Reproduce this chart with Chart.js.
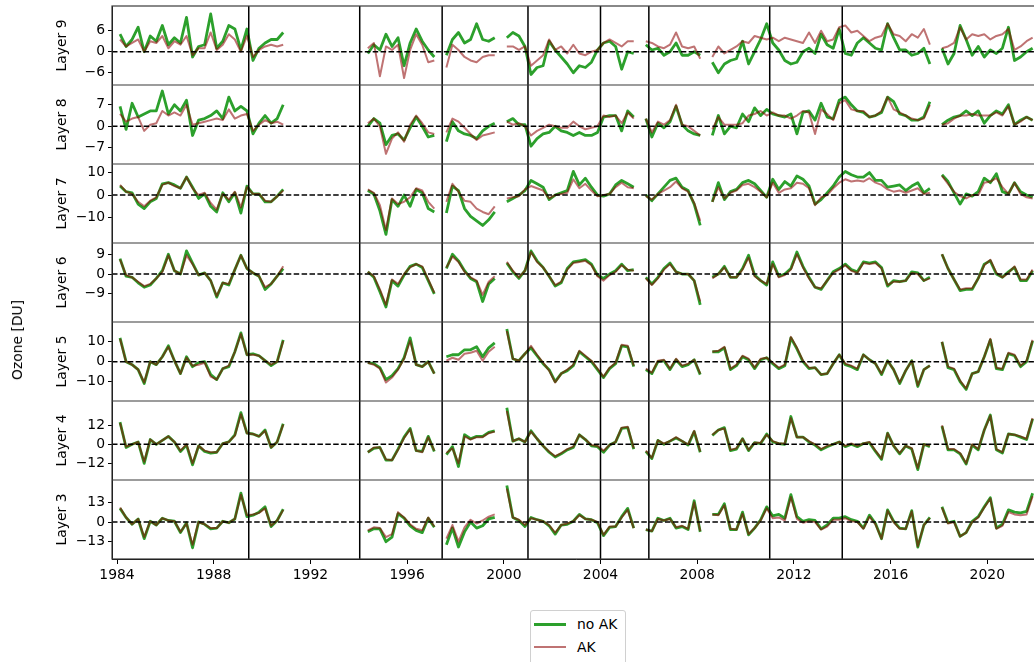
<!DOCTYPE html>
<html>
<head>
<meta charset="utf-8">
<script src="https://cdn.jsdelivr.net/npm/chart.js@4.4.1/dist/chart.umd.min.js"></script>
<style>
  html, body { margin: 0; padding: 0; background: #fff; overflow: hidden; }
  #page { position: relative; width: 1034px; height: 662px; overflow: hidden; }
  #chartBox { position: absolute; left: 0; top: 0; width: 1040px; height: 600px; }
  #ylab { position: absolute; left: 17px; top: 340px; transform: translate(-50%, -50%) rotate(-90deg);
          font: 13.9px "DejaVu Sans"; color: #000; white-space: nowrap; }
  #legend { position: absolute; left: 530px; top: 610px; width: 94px; height: 62px;
            border: 1px solid #d0d0d0; border-radius: 3px; background: #fff;
            font: 13.9px "DejaVu Sans"; color: #000; }
  #legend .row { position: absolute; left: 0; height: 18px; line-height: 18px; }
  #legend .sw { position: absolute; left: 3px; width: 32px; }
  #legend .tx { position: absolute; left: 46px; top: 0; white-space: nowrap; }
</style>
</head>
<body>
<div id="page">
  <div id="chartBox"><canvas id="ozoneChart"></canvas></div>
  <div id="ylab">Ozone [DU]</div>
  <div id="legend">
    <div class="row" style="top:4px"><span class="sw" style="top:7.5px;height:3px;background:#2ca02c"></span><span class="tx">no AK</span></div>
    <div class="row" style="top:27px"><span class="sw" style="top:8px;height:2px;background:rgba(139,0,0,0.55)"></span><span class="tx">AK</span></div>
  </div>
</div>
<script>
// quarterly samples, 1984.125 ... 2021.875 (152 points), null = no data
const years = [];
for (let i = 0; i < 152; i++) years.push(1984.125 + 0.25 * i);

const layers = [3, 4, 5, 6, 7, 8, 9];
const xTicks = [1984, 1988, 1992, 1996, 2000, 2004, 2008, 2012, 2016, 2020];
const breakYears = [1989.45, 1994.04, 1997.45, 2001.0, 2004.0, 2006.0, 2011.0, 2014.0];

// Layer 9
const noAK9 = [
  5.0, 1.5, 3.5, 7.0, 0.0, 4.5, 3.0, 7.5,
  2.0, 4.0, 2.5, 9.8, -1.5, 1.5, 2.0, 10.8,
  1.0, 3.0, 7.5, 6.5, 0.5, 6.5, -2.5, 1.0,
  2.5, 3.5, 3.5, 5.5, null, null, null, null,
  null, null, null, null, null, null, null, null,
  null, -0.5, 2.0, 0.5, 5.0, 1.5, 4.0, -4.0,
  2.5, 6.5, 3.0, 0.5, -1.5, null, -1.0, 3.5,
  5.5, 2.5, 3.5, 8.0, 3.5, 3.0, 4.0, null,
  4.0, 5.5, 4.5, 1.5, -6.5, -4.5, -4.0, 3.0,
  0.5, -1.5, -3.5, -6.0, -4.0, -4.5, -3.0, 0.5,
  2.5, 3.0, 1.5, -5.0, 0.0, -0.5, null, 2.0,
  0.5, 1.0, -1.0, 0.0, 2.5, -1.0, -1.0, 0.0,
  -1.0, null, -3.0, -6.0, -3.5, -2.5, -2.0, 3.0,
  -3.5, 0.0, 3.5, 8.0, 2.5, 0.5, -2.5, -3.5,
  -3.0, 0.0, 1.0, -0.5, 5.0, 2.0, 1.0, 6.5,
  -0.5, -1.0, 2.5, 4.0, 2.5, 1.0, 0.5, 8.0,
  4.0, 0.5, 0.5, -1.0, -0.5, 1.0, -3.5, null,
  1.0, -3.5, -0.5, 7.5, 3.5, -1.0, 1.5, -1.5,
  0.5, -0.5, 1.0, 7.0, -2.5, -1.5, 0.0, 1.0
];
const ak9 = [
  3.5, 1.5, 2.5, 3.5, 0.0, 3.0, 2.5, 4.5,
  1.0, 3.0, 2.0, 4.5, -1.0, 1.0, 1.0, 5.5,
  0.5, 2.0, 5.0, 3.5, 0.0, 4.5, -1.5, 0.5,
  1.5, 2.0, 1.5, 2.0, null, null, null, null,
  null, null, null, null, null, null, null, null,
  null, 1.0, 2.5, -7.0, 1.5, 0.5, 2.0, -7.5,
  0.5, 5.0, 2.0, -3.0, -2.5, null, -4.5, 2.0,
  0.5, -1.5, -2.5, -3.0, -1.5, -1.0, -1.0, null,
  1.5, 1.5, 0.5, 1.5, -4.0, -2.5, -1.0, 3.5,
  0.5, 1.5, -0.5, 2.0, -0.5, -1.0, 0.0, 0.5,
  2.5, 3.5, 2.5, 1.5, 3.0, 3.0, null, 3.0,
  2.5, 1.5, 1.0, 2.0, 5.5, 1.5, 1.0, 1.5,
  -2.0, null, -1.5, 1.5, -0.5, 0.5, 1.5, 3.0,
  2.5, 4.5, 4.0, 3.5, 4.0, 3.0, 4.0, 3.5,
  3.0, 2.5, 5.5, 2.5, 6.0, 3.0, 3.5, 7.0,
  7.5, 5.5, 6.0, 4.5, 3.0, 4.0, 4.5, 8.0,
  5.0, 4.5, 3.0, 5.0, 4.0, 6.5, 2.0, null,
  1.0, 1.5, 2.5, 7.0, 3.5, 5.0, 4.5, 5.0,
  3.5, 4.5, 5.0, 6.5, 0.5, 1.5, 3.0, 4.0
];

// Layer 8
const noAK8 = [
  6.5, -1.0, 7.5, 3.0, 4.0, 5.0, 5.0, 11.5,
  4.0, 7.0, 5.0, 8.5, -3.0, 2.0, 2.5, 3.5,
  5.0, 2.5, 9.5, 5.0, 6.5, 5.0, -2.5, 1.0,
  3.5, 1.0, 2.5, 7.0, null, null, null, null,
  null, null, null, null, null, null, null, null,
  null, 0.0, 2.5, 1.0, -6.0, -3.0, -2.5, -4.5,
  -0.5, 3.0, 0.0, -3.5, -3.0, null, -5.0, 1.5,
  -1.5, -2.5, -3.0, -4.0, -1.5, 0.0, 1.0, null,
  1.5, 2.5, 0.5, 0.5, -6.5, -4.0, -2.5, -2.0,
  0.0, -1.5, -2.0, -3.0, -2.0, -3.0, -3.0, -2.0,
  3.0, 3.5, 3.5, -1.5, 5.0, 3.0, null, 2.5,
  -3.5, 1.0, -0.5, 1.5, 6.5, 0.5, -1.5, -2.5,
  -3.0, null, -3.0, 3.5, -2.5, 0.0, -0.5, 4.0,
  1.5, 6.0, 3.5, 5.5, 4.0, 3.5, 3.0, 4.0,
  -2.5, 4.5, 5.0, 2.0, 7.5, 3.0, 2.5, 8.5,
  9.5, 7.0, 5.0, 4.5, 3.0, 3.5, 4.5, 9.5,
  8.0, 4.0, 3.5, 2.0, 2.0, 3.0, 8.0, null,
  0.5, 2.0, 3.0, 3.5, 5.0, 3.5, 5.0, 1.0,
  3.5, 5.0, 4.0, 7.0, 0.5, 2.0, 3.0, 2.0
];
const ak8 = [
  4.0, 1.5, 2.5, 3.0, -1.5, 0.5, 1.0, 5.0,
  3.5, 4.5, 3.5, 7.0, 0.5, 1.0, 1.5, 2.0,
  2.5, 2.0, 5.5, 2.5, 3.5, 4.0, -1.5, 0.5,
  2.0, 1.0, 1.5, 0.5, null, null, null, null,
  null, null, null, null, null, null, null, null,
  null, 1.0, 2.5, 0.0, -9.0, -4.0, -2.0, -5.0,
  0.5, 3.5, 1.0, -2.0, -2.5, null, -2.0, 2.5,
  1.5, -0.5, -2.5, -4.5, -3.0, -2.5, -2.0, null,
  1.5, 0.5, 1.0, 0.0, -3.0, -1.5, -0.5, 0.5,
  0.0, -0.5, -0.5, 1.5, 0.0, -1.0, -0.5, 0.0,
  3.5, 3.0, 3.5, 1.0, 4.5, 2.5, null, 2.5,
  -2.0, 1.5, 0.5, 2.0, 7.0, 0.5, 0.0, -1.5,
  -3.0, null, -1.0, 3.0, 0.5, 0.5, 0.5, 1.0,
  3.5, 4.0, 5.0, 3.5, 4.5, 3.5, 3.5, 2.5,
  3.5, 5.0, 4.5, -2.5, 5.5, 4.0, 2.0, 7.5,
  8.5, 5.5, 5.0, 5.0, 3.0, 3.5, 5.0, 9.5,
  5.5, 4.5, 3.5, 2.5, 2.0, 2.5, 7.0, null,
  0.5, 1.0, 2.5, 3.5, 3.5, 4.0, 3.5, 3.5,
  3.5, 4.5, 3.5, 6.5, 0.5, 1.5, 3.0, 2.0
];

// Layer 7
const noAK7 = [
  4.0, 1.5, 1.0, -4.0, -6.0, -3.0, -1.5, 5.0,
  5.5, 4.5, 3.0, 8.0, 3.5, -1.5, 0.5, -5.0,
  -7.5, 1.0, -3.0, 1.0, -8.0, 4.0, 0.5, 0.5,
  -3.0, -3.0, -0.5, 2.5, null, null, null, null,
  null, null, null, null, null, null, null, null,
  null, 2.0, 0.5, -7.0, -17.5, -2.0, -5.0, 0.0,
  -5.0, 2.5, 1.0, -6.0, -7.5, null, -8.0, 4.0,
  2.0, -6.0, -9.5, -11.5, -13.5, -11.0, -7.5, null,
  -3.0, -1.5, 0.0, 2.0, 6.5, 5.0, 3.5, -2.0,
  0.0, 1.0, 2.0, 10.5, 4.5, 7.5, 3.5, 0.0,
  -0.5, 0.5, 4.5, 6.5, 5.0, 3.5, null, 0.0,
  -2.5, 0.5, 3.5, 6.5, 7.5, 3.5, 2.0, -4.0,
  -13.5, null, -3.0, 5.5, -2.0, 1.5, 2.5, 5.5,
  6.5, 5.0, 2.0, -1.0, 7.0, 2.5, 6.0, 4.0,
  8.5, 7.0, 4.0, -4.0, -2.0, 1.0, 4.0, 8.0,
  10.5, 9.0, 8.0, 8.0, 10.0, 6.5, 6.5, 3.5,
  4.0, 4.5, 2.0, 4.0, 5.5, 1.0, 3.0, null,
  9.0, 6.0, 1.0, -4.0, 0.5, -0.5, 1.5, 7.5,
  5.5, 9.5, 1.5, 0.5, 5.5, 1.5, 0.0, -1.0
];
const ak7 = [
  4.5, 1.5, 0.5, -3.0, -5.0, -2.5, -1.0, 4.5,
  5.5, 4.0, 3.0, 8.0, 3.0, 0.0, 1.0, -3.5,
  -6.5, 0.5, -2.0, 1.5, -5.5, 3.5, 0.5, 0.5,
  -2.5, -3.0, -0.5, 2.0, null, null, null, null,
  null, null, null, null, null, null, null, null,
  null, 2.5, 1.0, -4.5, -15.5, -1.5, -4.0, -3.0,
  -1.0, 3.0, 2.0, -3.0, -6.0, null, -3.0, 5.0,
  1.5, -2.5, -3.0, -6.0, -7.5, -8.5, -5.0, null,
  -1.5, -1.0, -0.5, 2.5, 4.0, 3.0, 2.0, -1.5,
  0.0, 0.5, 1.0, 7.0, 3.0, 5.0, 2.0, -0.5,
  0.0, 0.5, 3.5, 5.5, 3.5, 3.0, null, -0.5,
  -2.0, 0.5, 2.0, 3.5, 6.0, 3.0, 1.5, -3.5,
  -11.5, null, -3.0, 3.5, -1.5, 1.0, 2.0, 4.5,
  5.0, 3.5, 1.5, -1.0, 5.5, 1.0, 2.5, 3.0,
  5.5, 5.0, 3.0, -4.5, -1.0, 0.0, 3.0, 5.5,
  7.0, 6.0, 6.5, 6.0, 7.5, 5.5, 4.5, 2.5,
  1.5, 2.0, 1.0, 2.0, 3.0, 0.5, 1.0, null,
  8.5, 5.0, 1.5, -0.5, -1.5, 0.0, 0.0, 5.5,
  6.0, 7.5, 3.5, 0.5, 5.5, 0.5, -1.0, -1.5
];

// Layer 6
const noAK6 = [
  7.0, -1.0, -1.5, -4.0, -6.0, -5.0, -2.0, 1.5,
  9.0, 1.5, 0.0, 10.5, 5.0, -0.5, 0.5, -3.0,
  -10.5, -4.0, -5.0, 2.0, 8.5, 2.5, 0.5, -1.0,
  -7.0, -4.5, -1.0, 2.5, null, null, null, null,
  null, null, null, null, null, null, null, null,
  null, 1.0, -1.5, -8.0, -15.0, -3.0, -5.5, -0.5,
  3.5, 4.5, 3.0, -3.0, -9.0, null, 2.5, 9.0,
  6.0, 1.5, -2.0, -3.5, -12.5, -4.5, -2.0, null,
  5.0, 1.0, -2.0, 1.5, 10.5, 6.0, 3.0, -1.0,
  -5.5, -4.0, 2.5, 5.5, 6.0, 6.5, 4.5, -0.5,
  -2.0, 0.0, 1.5, 4.5, 1.5, 2.0, null, -1.5,
  -4.5, -1.5, 2.5, 5.0, 1.0, 0.0, 0.0, -3.0,
  -14.0, null, -1.5, 0.0, 3.5, -1.5, -1.5, 2.5,
  8.5, -0.5, -3.0, -5.0, 5.5, -1.0, 0.0, 2.5,
  10.0, 3.5, -1.5, -6.0, -7.0, -3.0, 1.0, 2.5,
  4.5, 2.0, 1.0, 5.5, 5.0, 5.5, 3.0, -5.5,
  -3.0, -3.5, -3.0, 1.0, 0.5, -3.0, -1.5, null,
  9.0, 2.5, -2.5, -7.5, -7.0, -7.0, -2.0, 4.5,
  6.0, 0.0, -1.5, 1.0, 3.0, -3.0, -3.0, 1.5
];
const ak6 = [
  6.5, -0.5, -1.5, -3.5, -5.5, -4.5, -2.0, 1.0,
  8.5, 1.5, 0.0, 8.5, 4.5, -0.5, 0.5, -3.0,
  -10.0, -4.0, -4.5, 2.0, 8.5, 2.5, 0.5, -1.0,
  -6.0, -4.5, -1.0, 3.5, null, null, null, null,
  null, null, null, null, null, null, null, null,
  null, 1.0, -1.0, -7.0, -14.0, -2.5, -4.5, 0.0,
  3.0, 4.5, 3.5, -2.5, -8.5, null, 3.0, 8.0,
  5.5, 1.0, -1.5, -3.0, -9.5, -3.5, -1.0, null,
  5.5, 1.5, -1.5, 1.5, 10.0, 5.5, 3.0, -1.0,
  -5.0, -3.5, 2.0, 5.0, 5.5, 6.0, 4.0, -1.0,
  -3.0, -0.5, 1.0, 4.0, 2.0, 1.5, null, -2.0,
  -5.0, -2.0, 2.0, 4.5, 1.0, 0.0, 0.0, -3.0,
  -12.5, null, -2.0, 0.0, 3.0, -1.5, -1.5, 2.0,
  7.5, -1.0, -3.0, -4.5, 4.5, -1.5, -0.5, 2.0,
  9.0, 3.0, -2.0, -6.0, -6.5, -3.0, 0.5, 2.0,
  4.0, 1.5, 0.5, 5.0, 4.5, 5.0, 2.5, -5.0,
  -3.5, -3.5, -3.0, 0.5, 0.0, -3.0, -2.0, null,
  9.0, 2.5, -2.5, -7.0, -6.5, -6.5, -2.0, 4.0,
  6.5, 0.5, -1.5, 0.5, 3.5, -2.5, -2.5, 2.0
];

// Layer 5
const noAK5 = [
  12.0, 0.0, -1.5, -4.0, -11.0, 0.0, -1.5, 2.5,
  8.0, 0.5, -6.0, 2.5, -2.5, -0.5, 0.0, -6.5,
  -9.0, -3.5, -2.5, 5.0, 14.5, 3.5, 4.0, 3.0,
  0.5, -2.0, 0.0, 11.0, null, null, null, null,
  null, null, null, null, null, null, null, null,
  null, -0.5, -1.0, -3.0, -9.0, -7.0, -3.5, 2.0,
  12.0, -1.5, -2.5, 0.0, -6.0, null, 2.5, 3.5,
  3.5, 6.0, 6.0, 7.5, 2.5, 7.0, 9.5, null,
  16.5, 1.5, 0.5, 4.0, 7.0, 3.0, -1.0, -4.0,
  -10.0, -6.0, -4.5, -2.0, 5.0, 2.5, 0.0, -4.0,
  -8.0, -3.5, -1.0, 8.0, 7.5, -2.5, null, -4.0,
  -6.0, 0.0, 0.5, -4.0, 1.0, -2.5, -1.5, 1.0,
  -6.5, null, 5.0, 5.0, 7.0, -4.0, -2.0, 2.5,
  1.0, -3.5, 1.0, 2.0, -1.0, -3.5, -2.0, 12.0,
  6.5, 0.0, -3.5, -3.0, -6.5, -6.0, -1.0, 3.5,
  -1.5, -2.5, -4.0, 3.5, 1.0, -1.0, -6.5, 0.5,
  -4.0, -11.0, -4.5, 0.5, -12.5, -4.0, -2.0, null,
  10.0, -3.0, -4.0, -10.0, -14.0, -6.0, -5.0, 2.5,
  11.0, -3.5, -4.0, 4.0, 3.0, -2.5, 0.0, 10.5
];
const ak5 = [
  11.5, 0.0, -1.5, -4.0, -10.5, 0.0, -1.5, 2.5,
  7.5, 0.5, -6.0, 2.0, -2.0, -1.5, -0.5, -7.5,
  -9.0, -3.5, -2.0, 5.0, 14.0, 3.5, 3.5, 3.0,
  0.5, -1.5, 0.0, 10.5, null, null, null, null,
  null, null, null, null, null, null, null, null,
  null, -0.5, -1.5, -3.5, -10.5, -8.0, -4.0, 1.5,
  10.5, -1.5, -2.5, 0.0, -6.0, null, 0.5, 2.0,
  1.0, 4.0, 4.5, 5.5, 0.5, 5.0, 7.5, null,
  15.5, 1.5, 0.5, 4.0, 8.0, 3.5, -0.5, -4.5,
  -10.5, -6.0, -4.0, -1.5, 5.5, 3.0, 0.5, -3.5,
  -7.5, -3.0, -0.5, 8.5, 8.0, -2.0, null, -3.5,
  -5.5, 0.5, 1.0, -3.5, 1.5, -2.0, -1.0, 1.0,
  -6.0, null, 5.0, 5.5, 7.5, -3.5, -1.5, 3.0,
  1.5, -3.0, 1.5, 2.0, -0.5, -3.0, -1.5, 12.5,
  7.0, 0.5, -3.0, -3.0, -6.5, -6.0, -1.0, 3.5,
  -1.0, -2.0, -3.5, 3.5, 1.0, -1.0, -6.0, 0.5,
  -4.0, -10.5, -4.5, 0.5, -12.0, -4.0, -2.0, null,
  10.0, -2.5, -3.5, -9.5, -13.5, -6.0, -5.0, 2.5,
  11.5, -3.0, -3.5, 4.5, 3.5, -2.0, 0.5, 11.0
];

// Layer 4
const noAK4 = [
  14.0, -2.0, 0.0, 1.5, -12.0, 3.0, 0.0, 2.5,
  5.0, 1.5, -4.5, -0.5, -13.0, -1.0, -4.5, -5.5,
  -5.0, 0.5, 1.5, 6.0, 20.0, 7.0, 6.5, 5.0,
  9.0, -2.0, 1.5, 13.0, null, null, null, null,
  null, null, null, null, null, null, null, null,
  null, -5.0, -2.5, -2.0, -10.0, -10.0, -3.0, 4.5,
  10.0, -4.0, -4.5, 5.0, -4.5, null, -6.5, -1.5,
  -14.0, 6.0, 3.5, 5.0, 5.0, 7.5, 8.5, null,
  23.0, 2.0, 3.5, 1.5, 8.5, 3.5, -1.0, -5.0,
  -8.0, -6.0, -3.5, -2.0, 6.0, 3.0, -1.0, -1.5,
  -5.0, -0.5, 1.5, 10.0, 10.5, -3.0, null, -4.5,
  -9.0, 2.5, 0.0, 2.0, 4.0, 2.0, -0.5, 8.0,
  -5.0, null, 5.5, 9.0, 10.5, -4.0, -3.0, 3.5,
  -4.0, 1.0, 0.5, 6.5, 1.5, 0.5, 0.0, 17.5,
  4.5, 4.5, 1.5, -0.5, -3.5, -1.5, 0.0, 1.5,
  -1.5, 0.0, -1.5, 0.5, 1.0, -4.5, -9.5, 7.0,
  -1.0, -6.0, -1.0, -3.0, -16.0, 0.0, -1.5, null,
  11.5, -3.5, -3.5, -6.0, -12.5, -0.5, -3.5, 9.0,
  18.5, -3.5, -5.5, 6.5, 6.0, 4.5, 3.0, 16.0
];
const ak4 = [
  13.5, -1.5, 0.0, 1.5, -11.0, 3.0, 0.0, 2.5,
  5.0, 1.5, -4.0, 0.0, -12.0, -1.0, -4.0, -5.0,
  -5.0, 0.5, 1.5, 5.5, 19.0, 7.0, 6.5, 5.0,
  8.5, -2.0, 1.5, 12.5, null, null, null, null,
  null, null, null, null, null, null, null, null,
  null, -5.0, -2.0, -2.0, -9.5, -10.0, -3.5, 4.0,
  9.5, -4.0, -5.0, 4.5, -4.0, null, -5.5, -2.5,
  -12.0, 5.0, 3.0, 4.5, 4.5, 7.0, 8.0, null,
  21.0, 2.0, 3.5, 1.5, 8.0, 3.5, -1.0, -4.5,
  -7.5, -5.5, -3.0, -1.5, 6.0, 3.0, -0.5, -1.0,
  -4.0, -0.5, 1.5, 10.5, 11.0, -2.5, null, -4.0,
  -8.5, 2.5, 0.5, 2.0, 4.5, 2.0, 0.0, 8.5,
  -4.5, null, 6.0, 9.0, 10.0, -3.5, -2.5, 3.5,
  -3.5, 1.0, 1.0, 6.0, 2.0, 0.5, 0.5, 16.5,
  4.5, 4.5, 2.0, 0.0, -3.0, -1.0, 0.0, 1.5,
  -1.0, 0.5, -1.0, 0.5, 1.5, -4.0, -9.0, 7.0,
  -1.0, -5.5, -1.0, -2.5, -15.0, 0.0, -1.0, null,
  12.0, -3.0, -3.0, -5.5, -12.0, 0.0, -3.0, 9.0,
  18.0, -3.0, -5.0, 6.5, 6.0, 5.0, 3.5, 16.5
];

// Layer 3
const noAK3 = [
  9.0, 3.0, -1.5, 2.0, -11.0, 0.5, -2.0, 2.5,
  1.0, 0.5, -7.0, -0.5, -17.0, 0.0, -1.5, -4.5,
  -4.0, 0.5, -0.5, 2.0, 19.0, 3.5, 4.5, 6.5,
  10.0, -3.0, 1.0, 8.5, null, null, null, null,
  null, null, null, null, null, null, null, null,
  null, -6.5, -4.5, -4.5, -13.0, -10.0, 5.5, 2.5,
  -2.5, -5.5, -7.0, 2.5, -3.5, null, -15.0, -4.0,
  -16.5, -6.5, 0.0, -4.0, -2.5, 2.0, 3.0, null,
  24.0, 3.0, 1.0, -3.0, 3.0, 1.5, 0.5, -2.5,
  -8.0, -2.0, -1.5, 0.5, 5.0, 2.0, 1.5, -0.5,
  -9.0, -3.5, -3.0, 3.5, 9.0, -4.0, null, -5.0,
  -6.0, 2.5, 1.0, 2.5, -4.0, -3.0, -5.0, 14.0,
  -6.5, null, 5.0, 5.0, 12.0, -5.0, -5.0, 6.5,
  -8.5, -4.0, 1.5, 10.0, 4.0, 5.0, 2.5, 18.0,
  3.5, 0.5, 1.5, 1.0, -4.5, -2.0, 2.5, 2.5,
  3.5, 1.5, 0.5, -4.0, 4.5, -1.0, -11.0, 8.0,
  0.5, -4.0, -4.5, 7.5, -16.5, -2.0, 3.0, null,
  10.0, -0.5, 0.5, -9.5, -7.0, 0.5, 3.5, 10.0,
  16.0, -4.0, -1.5, 8.0, 6.5, 6.0, 7.0, 19.0
];
const ak3 = [
  9.5, 3.0, -1.5, 2.0, -10.0, 0.5, -2.0, 2.5,
  1.0, 0.5, -6.5, -1.0, -15.0, 0.0, -1.5, -4.0,
  -4.0, 0.5, -0.5, 2.0, 18.0, 4.5, 5.0, 6.0,
  9.0, -2.5, 1.0, 8.0, null, null, null, null,
  null, null, null, null, null, null, null, null,
  null, -5.5, -3.5, -4.0, -10.0, -8.0, 6.5, 3.0,
  -1.5, -4.5, -5.5, 3.0, -3.0, null, -11.0, -2.0,
  -13.0, -3.5, 1.5, -1.0, 1.0, 3.5, 5.0, null,
  22.0, 3.0, 1.5, -2.0, 2.5, 1.5, 0.5, -2.0,
  -7.0, -2.0, -1.0, 0.5, 4.5, 2.0, 1.5, 0.0,
  -8.5, -3.0, -3.0, 3.0, 8.0, -4.0, null, -5.0,
  -6.0, 2.0, 1.0, 2.0, -3.5, -2.5, -4.5, 13.0,
  -6.0, null, 5.0, 4.5, 11.0, -4.5, -5.0, 5.5,
  -8.0, -4.0, 1.0, 9.0, 2.5, 3.0, 1.0, 16.5,
  2.0, -0.5, 0.5, 0.0, -5.0, -3.0, 1.5, 1.5,
  2.5, 0.5, 0.0, -4.5, 3.5, -1.5, -11.0, 7.5,
  0.0, -4.5, -4.5, 7.0, -16.0, -2.0, 2.5, null,
  9.5, -1.0, 0.0, -9.5, -7.0, 0.0, 3.0, 9.5,
  15.5, -4.5, -2.5, 6.5, 5.0, 4.5, 5.0, 17.0
];

// axis limits and symmetric tick step of each panel
const yLimits = { 3: [-24.4, 27.7], 4: [-22.5, 27.3], 5: [-19.8, 20.0], 6: [-21.8, 14.1],
                  7: [-21.3, 13.8], 8: [-12.3, 13.45], 9: [-9.5, 13.06] };
const yStep = { 3: 13, 4: 12, 5: 10, 6: 9, 7: 10, 8: 7, 9: 6 };
const series = { 3: [noAK3, ak3], 4: [noAK4, ak4], 5: [noAK5, ak5], 6: [noAK6, ak6],
                 7: [noAK7, ak7], 8: [noAK8, ak8], 9: [noAK9, ak9] };

Chart.defaults.font.family = '"DejaVu Sans", sans-serif';
Chart.defaults.font.size = 13.9;
Chart.defaults.color = '#000';

const minus = v => (v < 0 ? '\u2212' + Math.abs(v) : String(v));

const datasets = [];
const scales = {
  x: {
    type: 'linear',
    min: 1983.793,
    max: 2022.18,
    afterBuildTicks: s => { s.ticks = xTicks.map(v => ({ value: v })); },
    afterFit: s => { s.height = 25; s.paddingLeft = 0; s.paddingRight = 0; },
    ticks: { callback: v => String(v), padding: 3, maxRotation: 0, autoSkip: false },
    grid: { drawOnChartArea: false, drawTicks: true, tickLength: 5, color: '#000' },
    border: { display: true, color: '#000', width: 1 }
  }
};

layers.forEach(n => {
  const [noAK, ak] = series[n];
  datasets.push({
    label: 'no AK', data: noAK, yAxisID: 'y' + n,
    borderColor: '#2ca02c', borderWidth: 2.8, order: 2
  });
  datasets.push({
    label: 'AK', data: ak, yAxisID: 'y' + n,
    borderColor: 'rgba(139,0,0,0.55)', borderWidth: 2, order: 1
  });
  const step = yStep[n];
  scales['y' + n] = {
    type: 'linear',
    position: 'left',
    stack: 'layers',
    stackWeight: 1,
    min: yLimits[n][0],
    max: yLimits[n][1],
    afterBuildTicks: s => { s.ticks = [-step, 0, step].map(v => ({ value: v })); },
    afterFit: s => { s.width = 112; s.paddingTop = 0; s.paddingBottom = 0; },
    ticks: { callback: minus, padding: 3 },
    grid: { drawOnChartArea: false, drawTicks: true, tickLength: 4, color: '#000' },
    border: { display: true, color: '#000', width: 1 },
    title: { display: true, text: 'Layer ' + n, padding: { top: 53.7, bottom: 0 } }
  };
});

// zero lines, instrument break lines and panel frames
const panelLines = {
  id: 'panelLines',
  afterDatasetsDraw(chart) {
    const { ctx, chartArea } = chart;
    const xs = chart.scales.x;
    ctx.save();
    ctx.strokeStyle = '#000';
    ctx.lineWidth = 1.5;
    ctx.setLineDash([5.5, 2.4]);
    layers.forEach(n => {
      const y = chart.scales['y' + n].getPixelForValue(0);
      ctx.beginPath();
      ctx.moveTo(chartArea.left, y);
      ctx.lineTo(chartArea.right, y);
      ctx.stroke();
    });
    ctx.setLineDash([]);
    breakYears.forEach(yr => {
      const x = xs.getPixelForValue(yr);
      ctx.beginPath();
      ctx.moveTo(x, chartArea.top);
      ctx.lineTo(x, chartArea.bottom);
      ctx.stroke();
    });
    ctx.strokeStyle = '#3a3a3a';
    ctx.lineWidth = 1.2;
    ctx.strokeRect(chartArea.left, chartArea.top, chartArea.right - chartArea.left, chartArea.bottom - chartArea.top);
    layers.forEach(n => {
      const s = chart.scales['y' + n];
      if (s.bottom < chartArea.bottom - 2) {
        ctx.beginPath();
        ctx.moveTo(chartArea.left, s.bottom);
        ctx.lineTo(chartArea.right, s.bottom);
        ctx.stroke();
      }
    });
    ctx.restore();
  }
};

new Chart(document.getElementById('ozoneChart'), {
  type: 'line',
  data: { labels: years, datasets: datasets },
  options: {
    responsive: true,
    maintainAspectRatio: false,
    animation: false,
    devicePixelRatio: 1,
    layout: { padding: { left: 0, right: 0, top: 6, bottom: 16 } },
    elements: {
      point: { radius: 0, hoverRadius: 0 },
      line: { tension: 0, borderJoinStyle: 'round', fill: false }
    },
    spanGaps: false,
    plugins: { legend: { display: false }, tooltip: { enabled: false } },
    scales: scales
  },
  plugins: [panelLines]
});
</script>
</body>
</html>
